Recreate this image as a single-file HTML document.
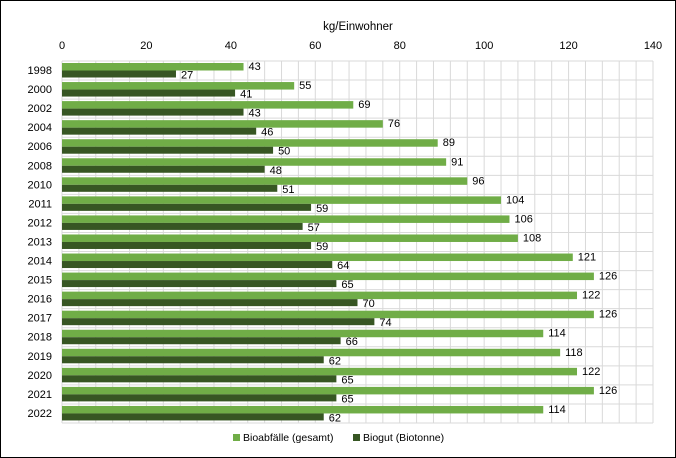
<!DOCTYPE html>
<html><head><meta charset="utf-8"><style>
body{margin:0;background:#fff}
svg{display:block;font-family:"Liberation Sans",sans-serif}
</style></head><body>
<svg width="676" height="458">
<rect x="0.5" y="0.5" width="675" height="457" fill="#fff" stroke="#000"/>
<g id="grid"></g>
<g id="bars"></g>
<text x="358" y="30" font-size="11.5" text-anchor="middle" fill="#000">kg/Einwohner</text>
<g>
<rect x="233" y="434" width="7" height="7" fill="#70ad47"/>
<text x="243" y="441" font-size="10.5">Bioabfälle (gesamt)</text>
<rect x="353" y="434" width="7" height="7" fill="#375623"/>
<text x="363" y="441" font-size="10.5">Biogut (Biotonne)</text>
</g>
</svg>
<script>
const years=["1998","2000","2002","2004","2006","2008","2010","2011","2012","2013","2014","2015","2016","2017","2018","2019","2020","2021","2022"];
const bioabfaelle=[43,55,69,76,89,91,96,104,106,108,121,126,122,126,114,118,122,126,114];
const biogut=[27,41,43,46,50,48,51,59,57,59,64,65,70,74,66,62,65,65,62];
const ticks=[0,20,40,60,80,100,120,140];
const NS="http://www.w3.org/2000/svg";
const X0=62,X1=653,Y0=61,Y1=423,MAX=140;
const xs=v=>X0+(X1-X0)*v/MAX;
const rowH=(Y1-Y0)/years.length;
const g=document.getElementById('grid'),b=document.getElementById('bars'),svg=document.querySelector('svg');
function el(t,a,p){const e=document.createElementNS(NS,t);for(const k in a)e.setAttribute(k,a[k]);p.appendChild(e);return e;}
for(let v=0;v<=MAX;v+=4){const l=el('line',{x1:xs(v),x2:xs(v),y1:Y0,y2:Y1,stroke:'#d9d9d9','stroke-width':1},g);

}
for(let i=0;i<=years.length;i++){const y=Y0+i*rowH;const l=el('line',{x1:X0,x2:X1,y1:y,y2:y,stroke:'#d9d9d9','stroke-width':1},g);

}
ticks.forEach(t=>{const tx=el('text',{x:xs(t),y:49,'font-size':11,'text-anchor':'middle'},svg);tx.textContent=t;

});
years.forEach((yr,i)=>{const top=Y0+i*rowH;
const yl=el('text',{x:52,y:top+13,'font-size':11,'text-anchor':'end'},svg);yl.textContent=yr;


const r1=el('rect',{x:X0,y:top+2,width:xs(bioabfaelle[i])-X0,height:7.5,fill:'#70ad47'},b);


const r2=el('rect',{x:X0,y:top+9.5,width:xs(biogut[i])-X0,height:7,fill:'#375623'},b);


const t1=el('text',{x:xs(bioabfaelle[i])+5,y:top+9,'font-size':11},svg);t1.textContent=bioabfaelle[i];


const t2=el('text',{x:xs(biogut[i])+5,y:top+17.5,'font-size':11},svg);t2.textContent=biogut[i];


});
</script>
</body></html>
